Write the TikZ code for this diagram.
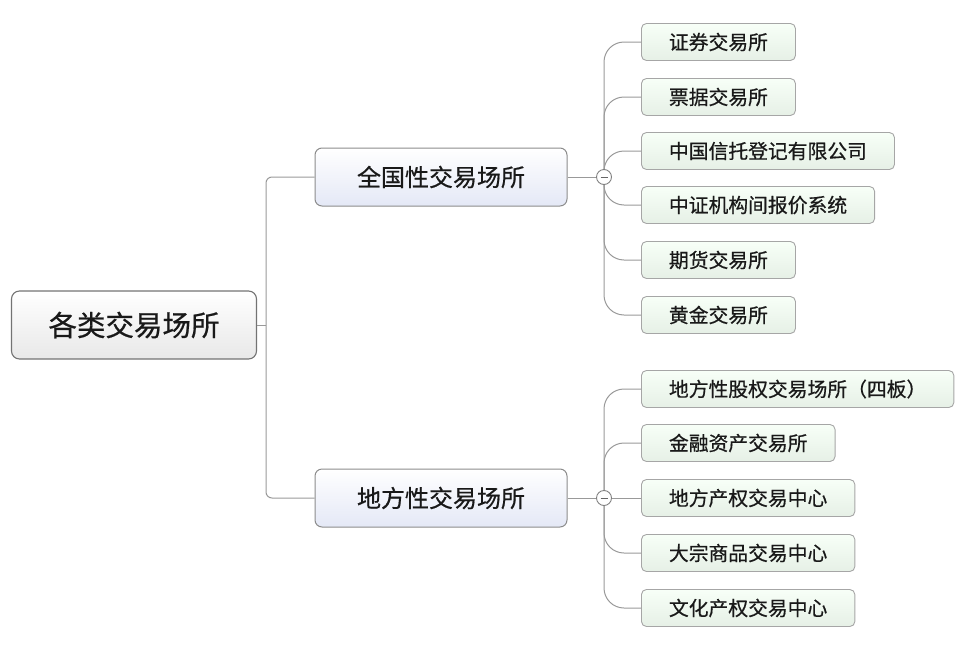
\documentclass[tikz,border=0pt]{standalone}
\usepackage{fontspec}
\setmainfont{Noto Sans CJK SC}[FakeBold=0.6]
\definecolor{midfill}{HTML}{E4E8F6}
\definecolor{leaffill}{HTML}{E6F0E6}
\definecolor{rootfill}{HTML}{E8E8E8}
\begin{document}
\begin{tikzpicture}[x=1pt,y=-1pt,
  rootbox/.style={draw=black!55, line width=1.1pt, rounded corners=8pt, top color=white, bottom color=rootfill,
    minimum width=245pt, minimum height=68pt, font=\fontsize{28.5}{31}\selectfont, text=black!90},
  midbox/.style={draw=black!45, line width=1pt, rounded corners=7pt, top color=white, bottom color=midfill,
    minimum width=252pt, minimum height=58pt, font=\fontsize{24}{27}\selectfont, text=black!90},
  leafbox/.style={draw=black!35, line width=0.9pt, rounded corners=5pt,
    top color=green!3!white, bottom color=leaffill, inner xsep=27.5pt, minimum height=37pt,
    anchor=west, font=\fontsize{19.8}{22}\selectfont, text=black!90},
  link/.style={draw=black!40, line width=1pt},
  tog/.style={circle, draw=black!50, line width=0.9pt, fill=white, minimum size=15pt, inner sep=0pt}
]
\useasboundingbox (0,0) rectangle (966,648);
\node[rootbox] (root) at (134,325) {各类交易场所};
\node[midbox] (m1) at (441,177) {全国性交易场所};
\node[midbox] (m2) at (441,498) {地方性交易场所};
\coordinate (t1) at (604,177);
\coordinate (t2) at (604,498);

\node[leafbox] (a1) at (641,42) {证券交易所};
\node[leafbox] (a2) at (641,97) {票据交易所};
\node[leafbox] (a3) at (641,151) {中国信托登记有限公司};
\node[leafbox] (a4) at (641,205) {中证机构间报价系统};
\node[leafbox] (a5) at (641,260) {期货交易所};
\node[leafbox] (a6) at (641,315) {黄金交易所};

\node[leafbox] (b1) at (641,389) {地方性股权交易场所（四板）};
\node[leafbox] (b2) at (641,443) {金融资产交易所};
\node[leafbox] (b3) at (641,498) {地方产权交易中心};
\node[leafbox] (b4) at (641,553) {大宗商品交易中心};
\node[leafbox] (b5) at (641,608) {文化产权交易中心};

\coordinate (rj) at (266,325);
\draw[link] (root.east) -- (rj);
\draw[link, rounded corners=6pt] (rj) |- (m1.west);
\draw[link, rounded corners=6pt] (rj) |- (m2.west);
\draw[link] (m1.east) -- (t1);
\draw[link] (m2.east) -- (t2);
\foreach \n in {a1,a2,a3,a4,a5,a6}{
  \draw[link, rounded corners=20pt] (t1) |- (\n.west);
}
\foreach \n in {b1,b2,b4,b5}{
  \draw[link, rounded corners=20pt] (t2) |- (\n.west);
}
\draw[link] (t2) -- (b3.west);
\node[tog] (c1) at (t1) {};
\node[tog] (c2) at (t2) {};
\draw[black!60, line width=1pt] ([xshift=-3.5pt]c1.center) -- ([xshift=3.5pt]c1.center);
\draw[black!60, line width=1pt] ([xshift=-3.5pt]c2.center) -- ([xshift=3.5pt]c2.center);
\end{tikzpicture}
\end{document}
